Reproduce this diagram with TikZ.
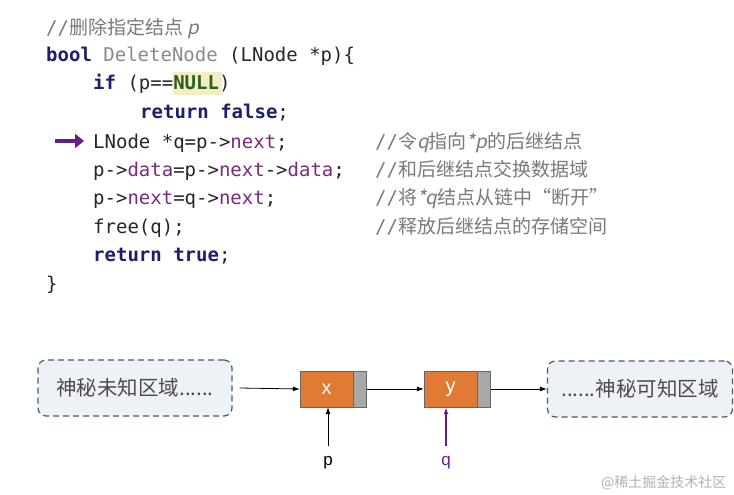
\documentclass[tikz,border=0pt]{standalone}
\usepackage{fontspec}
\setmainfont{Liberation Sans}
\setmonofont{DejaVu Sans Mono}
\newfontfamily\cjk{Noto Sans CJK SC}
\newfontfamily\cjkit[FakeSlant=0.2]{Noto Sans CJK SC}
\usetikzlibrary{arrows.meta}
\definecolor{kw}{HTML}{1C1F6B}
\definecolor{fn}{HTML}{8A8A8A}
\definecolor{fld}{HTML}{7B2B7E}
\definecolor{cm}{HTML}{7A7A7A}
\definecolor{nul}{HTML}{2E5E1E}
\definecolor{hl}{HTML}{F3EDC4}
\definecolor{org}{HTML}{E07A34}
\definecolor{gry}{HTML}{A8A8A8}
\definecolor{bxf}{HTML}{EEF2F7}
\definecolor{bxd}{HTML}{3F5F72}
\definecolor{pur}{HTML}{6A1B8A}
\begin{document}
\begin{tikzpicture}[x=1pt,y=-1pt,
  code/.style={anchor=base west,inner sep=0,font=\ttfamily\fontsize{19}{19}\selectfont,text=black!85},
  cmt/.style={anchor=base west,inner sep=0,font=\cjk\fontsize{17}{17}\selectfont,text=cm},
  cloud/.style={draw=bxd,fill=bxf,dashed,dash pattern=on 6pt off 4pt,line width=1.2pt,rounded corners=8pt,minimum height=56pt,font=\cjk\fontsize{20.5}{20.5}\selectfont,text=black!70},
  datab/.style={fill=org,draw=black!60,minimum width=53pt,minimum height=36pt,inner sep=0,text=white,font=\fontsize{20}{20}\selectfont},
  ptrb/.style={fill=gry,draw=black!60,minimum width=13pt,minimum height=36pt,inner sep=0},
  link/.style={-{Latex[length=7pt,width=5pt]},line width=0.8pt}]
\useasboundingbox (0,0) rectangle (734,495);
\fill[white] (0,0) rectangle (734,495);
% code
\node[cmt] (c1) at (46,35) {\ttfamily\fontsize{19}{19}\selectfont//\cjk 删除指定结点 \cjkit p};
\node[code] (l2) at (46,62) {\textbf{\color{kw}bool} {\color{fn}DeleteNode} (LNode *p)\{};
\fill[hl] (173,72) rectangle (222,95);
\node[code] (l3) at (93,90) {\textbf{\color{kw}if} (p==\textbf{\color{nul}NULL})};
\node[code] (l4) at (140,118) {\textbf{\color{kw}return false};};
\node[code] (l5) at (93,148) {LNode *q=p->{\color{fld}next};};
\node[code] (l6) at (93,176) {p->{\color{fld}data}=p->{\color{fld}next}->{\color{fld}data};};
\node[code] (l7) at (93,204) {p->{\color{fld}next}=q->{\color{fld}next};};
\node[code] (l8) at (93,233) {free(q);};
\node[code] (l9) at (93,261) {\textbf{\color{kw}return true};};
\node[code] (l10) at (46,290) {\}};
\node[cmt] (m5) at (375,148) {\ttfamily\fontsize{19}{19}\selectfont//\cjk 令{\cjkit q}指向{\cjkit *p}的后继结点};
\node[cmt] (m6) at (375,176) {\ttfamily\fontsize{19}{19}\selectfont//\cjk 和后继结点交换数据域};
\node[cmt] (m7) at (375,204) {\ttfamily\fontsize{19}{19}\selectfont//\cjk 将{\cjkit *q}结点从链中“断开”};
\node[cmt] (m8) at (375,233) {\ttfamily\fontsize{19}{19}\selectfont//\cjk 释放后继结点的存储空间};
\coordinate (a0) at (55,141);
\coordinate (a1) at (84,141);
\draw[pur,line width=4.5pt,-{Triangle[length=9pt,width=14pt]}] (a0) -- (a1);
% diagram
\node[cloud,minimum width=194pt] (L) at (135,388) {神秘未知区域......};
\node[cloud,minimum width=185pt] (R) at (640,389) {......神秘可知区域};
\node[datab] (x) at (326.5,389) {x};
\node[ptrb,anchor=west] (xp) at (x.east) {};
\node[datab] (y) at (450.5,389) {y};
\node[ptrb,anchor=west] (yp) at (y.east) {};
\draw[link] (L.east)++(7,0) -- (x.west);
\draw[link] (xp.east) -- (y.west);
\draw[link] (yp.east) -- (R.west);
\node[font=\fontsize{17}{17}\selectfont] (p) at (328,463) {p};
\node[font=\fontsize{17}{17}\selectfont,text=pur] (q) at (446,463) {q};
\draw[link] (328,446) -- (x.south -| 328,0);
\draw[link,pur,line width=1.6pt] (446,446) -- (y.south -| 446,0);
\node[font=\cjk\fontsize{14}{14}\selectfont,text=black!30,anchor=east] (wm) at (730,483) {@稀土掘金技术社区};
\end{tikzpicture}
\end{document}
